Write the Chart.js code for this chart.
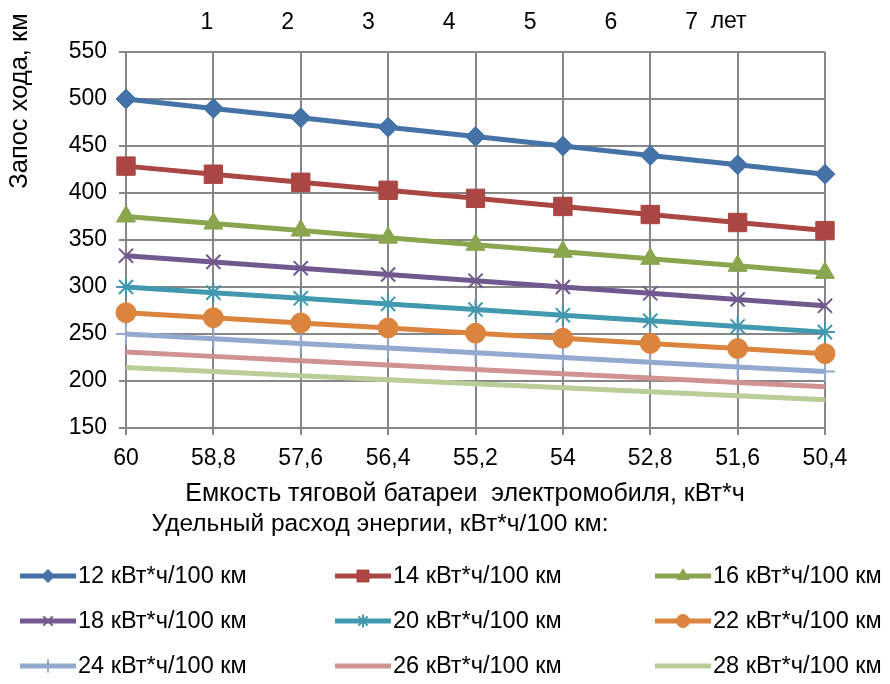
<!DOCTYPE html>
<html><head><meta charset="utf-8">
<script src="https://cdn.jsdelivr.net/npm/chart.js@4"></script>
<style>html,body{margin:0;padding:0;background:#fff}</style>
</head><body>
<canvas id="c" width="890" height="684" style="width:890px;height:684px;display:block"></canvas>
<script>
const capacities = ['60','58,8','57,6','56,4','55,2','54','52,8','51,6','50,4'];
const years = [1,2,3,4,5,6,7];
const yTicks = [150,200,250,300,350,400,450,500,550];
const seriesNames = ['12 кВт*ч/100 км','14 кВт*ч/100 км','16 кВт*ч/100 км','18 кВт*ч/100 км','20 кВт*ч/100 км','22 кВт*ч/100 км','24 кВт*ч/100 км','26 кВт*ч/100 км','28 кВт*ч/100 км'];
const s12 = [500,490,480,470,460,450,440,430,420];
const s14 = [428.6,420,411.4,402.9,394.3,385.7,377.1,368.6,360];
const s16 = [375,367.5,360,352.5,345,337.5,330,322.5,315];
const s18 = [333.3,326.7,320,313.3,306.7,300,293.3,286.7,280];
const s20 = [300,294,288,282,276,270,264,258,252];
const s22 = [272.7,267.3,261.8,256.4,250.9,245.5,240,234.5,229.1];
const s24 = [250,245,240,235,230,225,220,215,210];
const s26 = [230.8,226.2,221.5,216.9,212.3,207.7,203.1,198.5,193.8];
const s28 = [214.3,210,205.7,201.4,197.1,192.9,188.6,184.3,180];

const FONT = '"Liberation Sans", Arial, sans-serif';
const styles = [
  {c:'#4572A7', ps:'rectRot', r:10, bw:1},
  {c:'#AA4643', ps:'rect', r:13, bw:1},
  {c:'#89A54E', ps:'triangle', r:11, bw:1},
  {c:'#71588F', ps:'crossRot', r:10, bw:2},
  {c:'#4198AF', ps:'star', r:10, bw:2},
  {c:'#DB843D', ps:'circle', r:10, bw:1},
  {c:'#93A9CF', ps:'cross', r:10, bw:2},
  {c:'#D19392', ps:false, r:0, bw:1},
  {c:'#B9CD96', ps:false, r:0, bw:1}
];
const allSeries = [s12,s14,s16,s18,s20,s22,s24,s26,s28];
const datasets = allSeries.map((d,i)=>({
  label: seriesNames[i], data: d, xAxisID:'x', yAxisID:'y',
  borderColor: styles[i].c, backgroundColor: styles[i].c, borderWidth: 5,
  pointStyle: styles[i].ps || 'circle', pointRadius: styles[i].r,
  pointBorderWidth: styles[i].bw, pointBorderColor: styles[i].c, pointBackgroundColor: styles[i].c,
  tension: 0, clip: false
}));

const extras = {
  id:'extras',
  afterDraw(chart){
    const ctx = chart.ctx;
    ctx.save();
    ctx.fillStyle = '#000';
    ctx.textBaseline = 'middle';
    // y title
    ctx.save();
    ctx.font = '25.5px ' + FONT;
    ctx.translate(20, 101);
    ctx.rotate(-Math.PI/2);
    ctx.textAlign = 'center';
    ctx.fillText('Запос хода, км', 0, 0);
    ctx.restore();
    ctx.textAlign = 'center';
    ctx.font = '25px ' + FONT;
    ctx.fillText('Емкость тяговой батареи  электромобиля, кВт*ч', 465, 494);
    ctx.font = '24.5px ' + FONT;
    ctx.fillText('Удельный расход энергии, кВт*ч/100 км:', 380, 524);
    // 'лет' next to 7
    const x2 = chart.scales.x2;
    ctx.font = '23px ' + FONT;
    ctx.textAlign = 'left';
    ctx.fillText('лет', x2.getPixelForValue(7) + 19, 22);
    // legend
    ctx.font = '23.5px ' + FONT;
    const cols = [20, 335, 655], rows = [576, 621, 666];
    chart.data.datasets.forEach((ds, i) => {
      const x0 = cols[i % 3], y = rows[Math.floor(i / 3)];
      ctx.strokeStyle = ds.borderColor; ctx.lineWidth = 5; ctx.lineCap = 'butt';
      ctx.beginPath(); ctx.moveTo(x0, y); ctx.lineTo(x0 + 56, y); ctx.stroke();
      if (styles[i].ps) {
        ctx.fillStyle = ds.borderColor; ctx.strokeStyle = ds.borderColor;
        ctx.lineWidth = styles[i].bw;
        Chart.helpers.drawPoint(ctx, {pointStyle: styles[i].ps, radius: styles[i].r * 0.65, borderWidth: styles[i].bw, rotation: 0}, x0 + 28, y);
      }
      ctx.fillStyle = '#000';
      ctx.textAlign = 'left';
      ctx.fillText(ds.label, x0 + 58, y + 1);
    });
    ctx.restore();
  }
};

new Chart(document.getElementById('c'), {
  type: 'line',
  data: { labels: capacities, datasets },
  options: {
    responsive: false, animation: false,
    layout: { padding: { left: 0, right: 65, top: 0, bottom: 0 } },
    plugins: { legend: { display: false }, tooltip: { enabled: false } },
    scales: {
      x: {
        type: 'category', position: 'bottom', offset: false,
        grid: { color: '#878787', lineWidth: 2, tickLength: 7, drawTicks: true },
        border: { color: '#878787', width: 2 },
        ticks: { color: '#000', font: { size: 23, family: FONT }, padding: 10, maxRotation: 0, autoSkip: false },
        afterFit(s) { s.height = 256; }
      },
      x2: {
        type: 'linear', position: 'top', min: 0, max: 8.65,
        grid: { display: false, drawTicks: false }, border: { display: false },
        afterBuildTicks(s) { s.ticks = years.map(v => ({ value: v })); },
        ticks: { color: '#000', font: { size: 23, family: FONT }, padding: 16, maxRotation: 0, autoSkip: false, callback: v => String(v) },
        afterFit(s) { s.height = 52; }
      },
      y: {
        min: 150, max: 550,
        afterBuildTicks(s) { s.ticks = yTicks.map(v => ({ value: v })); },
        grid: { color: '#878787', lineWidth: 2, tickLength: 7, drawTicks: true },
        border: { color: '#878787', width: 2 },
        ticks: { color: '#000', font: { size: 23, family: FONT }, padding: 12 },
        afterFit(s) { s.width = 126; }
      }
    }
  },
  plugins: [extras]
});
</script>
</body></html>
